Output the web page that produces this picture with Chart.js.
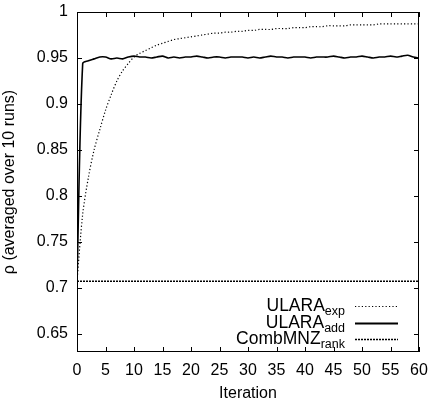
<!DOCTYPE html>
<html lang="en">
<head>
    <meta charset="UTF-8">
    <title>ULARA rho vs iteration</title>
    <style>
        html, body { margin: 0; padding: 0; background: #fff; }
        #wrap { width: 430px; height: 403px; }
    </style>
    <script src="https://cdn.jsdelivr.net/npm/chart.js"></script>
</head>
<body>
    <div id="wrap"><canvas id="rhoChart" width="430" height="403"></canvas></div>

    <script>
        // iterations 0..60
        var iterations = [];
        for (var i = 0; i <= 60; i++) iterations.push(i);

        var ularaExp = [
            0.707, 0.780, 0.820, 0.850, 0.872, 0.893, 0.910, 0.925, 0.936, 0.944,
            0.951, 0.955, 0.958, 0.961, 0.964, 0.966, 0.968, 0.970, 0.971, 0.972,
            0.973, 0.974, 0.975, 0.976, 0.977, 0.977, 0.978, 0.978, 0.979, 0.979,
            0.980, 0.980, 0.981, 0.981, 0.981, 0.982, 0.982, 0.982, 0.983, 0.983,
            0.983, 0.984, 0.984, 0.984, 0.985, 0.985, 0.985, 0.985, 0.986, 0.986,
            0.986, 0.986, 0.986, 0.987, 0.987, 0.987, 0.987, 0.987, 0.987, 0.987,
            0.987
        ];
        var ularaAdd = [
            0.707, 0.944, 0.947, 0.949, 0.951, 0.951, 0.949, 0.950, 0.949, 0.951,
            0.952, 0.951, 0.951, 0.950, 0.951, 0.952, 0.950, 0.951, 0.950, 0.951,
            0.951, 0.952, 0.951, 0.950, 0.951, 0.951, 0.950, 0.951, 0.951, 0.951,
            0.950, 0.951, 0.950, 0.951, 0.952, 0.951, 0.951, 0.950, 0.951, 0.951,
            0.951, 0.950, 0.951, 0.951, 0.951, 0.952, 0.951, 0.950, 0.951, 0.951,
            0.952, 0.951, 0.950, 0.951, 0.951, 0.952, 0.951, 0.952, 0.953, 0.951,
            0.950
        ];
        var combMnzRank = iterations.map(function () { return 0.707; });

        var xTicks = [0, 5, 10, 15, 20, 25, 30, 35, 40, 45, 50, 55, 60];
        var yTicks = [0.65, 0.7, 0.75, 0.8, 0.85, 0.9, 0.95, 1];

        var legendItems = [
            { main: 'ULARA', sub: 'exp', dash: [1.2, 2.2], width: 1.2 },
            { main: 'ULARA', sub: 'add', dash: [], width: 1.8 },
            { main: 'CombMNZ', sub: 'rank', dash: [2, 1], width: 1.3 }
        ];

        var FONT = '"Liberation Sans", Arial, Helvetica, sans-serif';

        function toPoints(arr) {
            return arr.map(function (v, i) { return { x: iterations[i], y: v }; });
        }

        // gnuplot style: frame, inward mirrored ticks, legend inside
        var gnuplotFrame = {
            id: 'gnuplotFrame',
            afterDraw: function (chart) {
                var ctx = chart.ctx;
                var a = chart.chartArea;
                var xs = chart.scales.x, ys = chart.scales.y;
                ctx.save();
                ctx.strokeStyle = '#000';
                ctx.lineWidth = 1;
                ctx.strokeRect(a.left + 0.5, a.top + 0.5, a.right - a.left - 1, a.bottom - a.top - 1);
                ctx.beginPath();
                xTicks.forEach(function (t) {
                    var px = Math.round(xs.getPixelForValue(t)) + 0.5;
                    ctx.moveTo(px, a.bottom); ctx.lineTo(px, a.bottom - 5);
                    ctx.moveTo(px, a.top); ctx.lineTo(px, a.top + 5);
                });
                yTicks.forEach(function (t) {
                    var py = Math.round(ys.getPixelForValue(t)) + 0.5;
                    ctx.moveTo(a.left, py); ctx.lineTo(a.left + 5, py);
                    ctx.moveTo(a.right, py); ctx.lineTo(a.right - 5, py);
                });
                ctx.stroke();

                // legend
                var rowY = [a.bottom - 46, a.bottom - 29, a.bottom - 13];
                var textRight = a.right - 74;
                var lineL = a.right - 64, lineR = a.right - 21;
                legendItems.forEach(function (it, k) {
                    var y = rowY[k];
                    ctx.fillStyle = '#000';
                    ctx.textBaseline = 'alphabetic';
                    ctx.textAlign = 'right';
                    ctx.font = '12.5px ' + FONT;
                    var subW = ctx.measureText(it.sub).width;
                    ctx.fillText(it.sub, textRight, y + 9);
                    ctx.font = '17.5px ' + FONT;
                    ctx.fillText(it.main, textRight - subW, y + 5);
                    ctx.beginPath();
                    ctx.setLineDash(it.dash);
                    ctx.lineWidth = it.width;
                    ctx.moveTo(lineL, y + 0.5);
                    ctx.lineTo(lineR, y + 0.5);
                    ctx.stroke();
                    ctx.setLineDash([]);
                });
                ctx.restore();
            }
        };

        var data = {
            datasets: [
                {
                    label: 'ULARA exp',
                    data: toPoints(ularaExp),
                    borderColor: '#000',
                    borderWidth: 1.2,
                    borderDash: [1.2, 2.2],
                    pointRadius: 0,
                    tension: 0.3
                },
                {
                    label: 'ULARA add',
                    data: toPoints(ularaAdd),
                    borderColor: '#000',
                    borderWidth: 1.6,
                    pointRadius: 0,
                    tension: 0.3
                },
                {
                    label: 'CombMNZ rank',
                    data: toPoints(combMnzRank),
                    borderColor: '#000',
                    borderWidth: 1.3,
                    borderDash: [2, 1],
                    pointRadius: 0
                }
            ]
        };

        var options = {
            responsive: false,
            animation: false,
            layout: { padding: { top: 12, right: 11, left: 0, bottom: 0 } },
            plugins: {
                legend: { display: false },
                tooltip: { enabled: false }
            },
            scales: {
                x: {
                    type: 'linear',
                    min: 0,
                    max: 60,
                    afterBuildTicks: function (scale) {
                        scale.ticks = xTicks.map(function (v) { return { value: v }; });
                    },
                    afterFit: function (scale) {
                        scale.height = 51;
                        scale.paddingLeft = 0;
                        scale.paddingRight = 0;
                    },
                    grid: { display: false, drawTicks: false },
                    border: { display: false },
                    ticks: {
                        color: '#000',
                        font: { family: FONT, size: 16 },
                        padding: 9,
                        maxRotation: 0
                    },
                    title: {
                        display: true,
                        text: 'Iteration',
                        color: '#000',
                        font: { family: FONT, size: 16 },
                        padding: { top: 1, bottom: 0 }
                    }
                },
                y: {
                    type: 'linear',
                    min: 0.63,
                    max: 1,
                    afterBuildTicks: function (scale) {
                        scale.ticks = yTicks.map(function (v) { return { value: v }; });
                    },
                    afterFit: function (scale) {
                        scale.width = 77;
                        scale.paddingTop = 0;
                        scale.paddingBottom = 0;
                    },
                    grid: { display: false, drawTicks: false },
                    border: { display: false },
                    ticks: {
                        color: '#000',
                        font: { family: FONT, size: 16 },
                        padding: 9,
                        callback: function (v) { return String(Math.round(v * 100) / 100); }
                    },
                    title: {
                        display: true,
                        text: 'ρ (averaged over 10 runs)',
                        color: '#000',
                        font: { family: FONT, size: 16 },
                        padding: { top: 0, bottom: 2 }
                    }
                }
            }
        };

        Chart.register(gnuplotFrame);
        var ctx = document.getElementById('rhoChart').getContext('2d');
        new Chart(ctx, { type: 'line', data: data, options: options });
    </script>
</body>
</html>
